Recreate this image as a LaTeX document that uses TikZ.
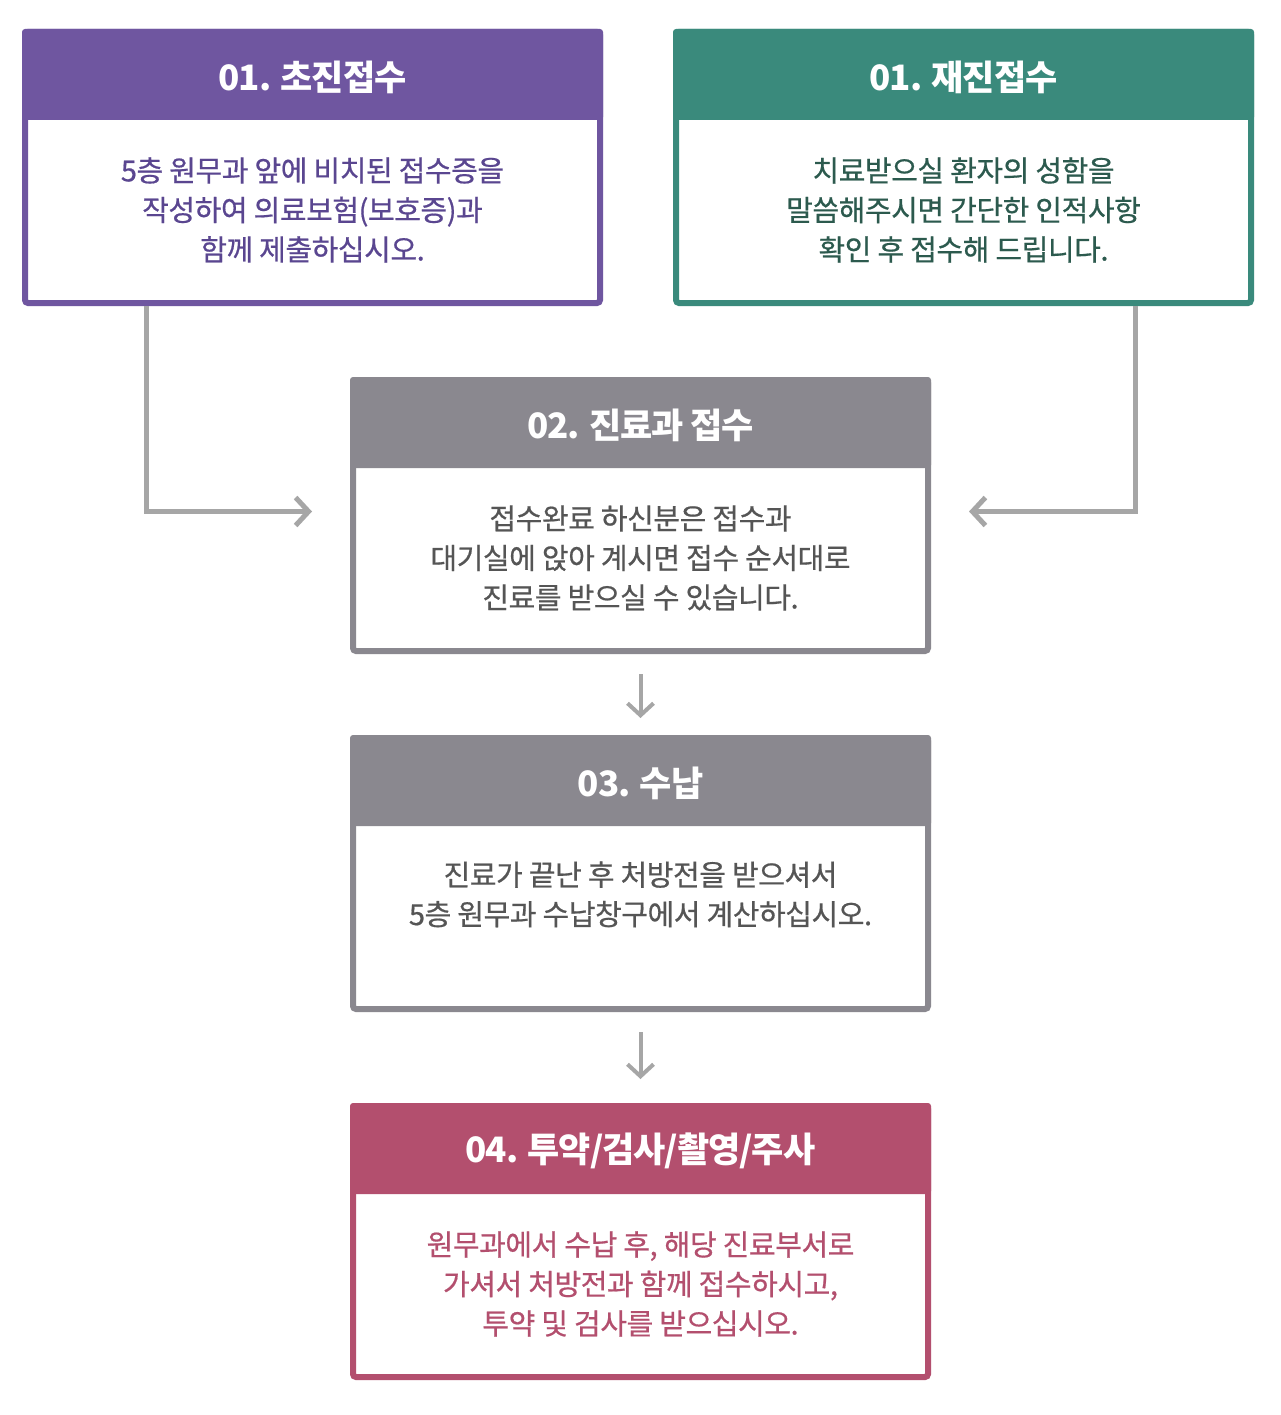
\documentclass[tikz,border=0pt]{standalone}
\usepackage{fontspec}
\usetikzlibrary{arrows.meta,calc}
\newfontfamily\kr{Noto Sans CJK KR}[LetterSpace=-3]
\newfontfamily\krb{Noto Sans CJK KR}[FakeBold=0.6,LetterSpace=-1.5]
\definecolor{cpurple}{HTML}{6F56A0}
\definecolor{tpurple}{HTML}{5A4690}
\definecolor{cgreen}{HTML}{3A8A7C}
\definecolor{tgreen}{HTML}{2C5A4E}
\definecolor{cgray}{HTML}{8A888F}
\definecolor{tgray}{HTML}{555555}
\definecolor{cpink}{HTML}{B34F6E}
\definecolor{tpink}{HTML}{B34F6E}
\definecolor{cline}{HTML}{A6A6A6}
\tikzset{
  card/.style={draw, line width=6pt, rounded corners=3pt, fill=white, outer sep=0pt,
    minimum width=575pt, minimum height=271pt, anchor=north west, inner sep=0pt},
  cardtitle/.style={text=white, font=\kr\bfseries\fontsize{35}{40}\selectfont, inner sep=0pt},
  cardbody/.style={align=center, font=\krb\fontsize{29}{39.5}\selectfont, inner sep=0pt},
  conn/.style={draw=cline, line width=5pt, -{Straight Barb[length=13pt,width=28pt]}},
  connd/.style={draw=cline, line width=4pt, -{Straight Barb[length=12pt,width=26pt]}}
}
\newcommand\mycard[7]{%
  \node[card, draw=#4] (#1) at (#2,#3) {};
  \fill[#4, rounded corners=3pt] ([xshift=-3pt,yshift=3pt]#1.north west) rectangle ($(#1.north east)+(3,88)$);
  \node[cardtitle] (#1t) at ($(#1.north)+(0,45)$) {#6};
  \node[cardbody, text=#5] (#1b) at ($(#1.north)+(0,178)$) {#7};
}
\begin{document}
\begin{tikzpicture}[x=1pt,y=-1pt]
\useasboundingbox[fill=white] (0,0) rectangle (1280,1415);
\mycard{b1}{25}{32}{cpurple}{tpurple}{01. 초진접수}{5층 원무과 앞에 비치된 접수증을\\작성하여 의료보험(보호증)과\\함께 제출하십시오.}
\mycard{b2}{676}{32}{cgreen}{tgreen}{01. 재진접수}{치료받으실 환자의 성함을\\말씀해주시면 간단한 인적사항\\확인 후 접수해 드립니다.}
\mycard{b3}{353}{380}{cgray}{tgray}{02. 진료과 접수}{접수완료 하신분은 접수과\\대기실에 앉아 계시면 접수 순서대로\\진료를 받으실 수 있습니다.}
\mycard{b4}{353}{738}{cgray}{tgray}{03. 수납}{진료가 끝난 후 처방전을 받으셔서\\5층 원무과 수납창구에서 계산하십시오.\\[6pt]\mbox{}}
\mycard{b5}{353}{1106}{cpink}{tpink}{04. 투약/검사/촬영/주사}{원무과에서 수납 후, 해당 진료부서로\\가셔서 처방전과 함께 접수하시고,\\투약 및 검사를 받으십시오.}
\coordinate (l1) at ($(b1.south west)+(121,3)$);
\coordinate (l2) at ($(b3.west)+(-41,-4)$);
\coordinate (r1) at ($(b2.south west)+(459,3)$);
\coordinate (r2) at ($(b3.east)+(41,-4)$);
\draw[conn] (l1) |- (l2);
\draw[conn] (r1) |- (r2);
\coordinate (d1) at ($(b3.south)+(0,23)$);
\coordinate (d2) at ($(b4.north)+(0,-20)$);
\coordinate (d3) at ($(b4.south)+(0,23)$);
\coordinate (d4) at ($(b5.north)+(0,-27)$);
\draw[connd] (d1) -- (d2);
\draw[connd] (d3) -- (d4);
\end{tikzpicture}
\end{document}
